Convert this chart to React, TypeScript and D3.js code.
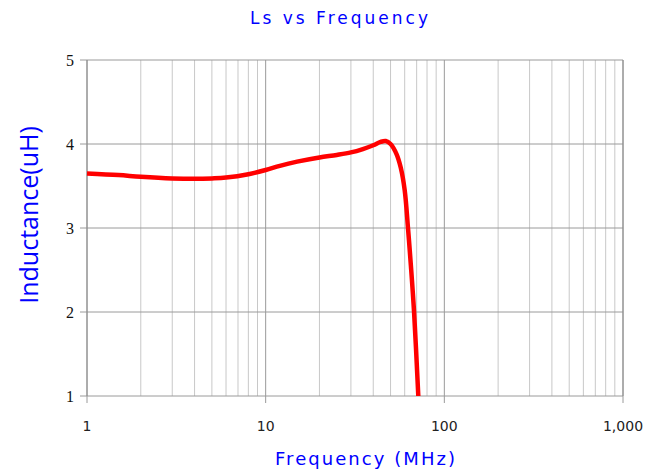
import * as d3 from 'd3';
import React from 'react';

// Ls vs frequency
const freqMHz = [1, 1.5, 2, 3, 4, 5, 6, 8, 10, 12, 15, 20, 25, 30, 35, 40, 44, 47, 50, 54, 57, 60, 62.6, 65, 67.7, 71.5];
const lsUH = [3.65, 3.63, 3.61, 3.59, 3.585, 3.59, 3.6, 3.64, 3.69, 3.74, 3.79, 3.84, 3.87, 3.9, 3.94, 3.985, 4.025, 4.035, 4.0, 3.88, 3.72, 3.45, 3.0, 2.55, 2.0, 1.0];

const xTicks = [1, 10, 100, 1000];
const yTicks = [1, 2, 3, 4, 5];

export default function App() {
  const width = 646;
  const height = 471;
  const margin = { top: 60, right: 23, bottom: 75, left: 87 };
  const innerW = width - margin.left - margin.right;
  const innerH = height - margin.top - margin.bottom;

  const x = d3.scaleLog().domain([1, 1000]).range([0, innerW]);
  const y = d3.scaleLinear().domain([1, 5]).range([innerH, 0]);

  const minor: number[] = [];
  for (let dec = 1; dec < 1000; dec *= 10) {
    for (let k = 2; k <= 9; k++) minor.push(dec * k);
  }

  const line = d3
    .line<number>()
    .x((_, i) => x(freqMHz[i]))
    .y((d) => y(d))
    .curve(d3.curveCatmullRom.alpha(0.5));

  const fmt = d3.format(',');

  return (
    <svg width={width} height={height} style={{ position: 'absolute', left: 0, top: 0, background: '#fff' }}>
      <text x={339} y={24} textAnchor="middle" fill="#0000ff" fontFamily="DejaVu Sans" fontSize={17} textLength={178} lengthAdjust="spacing">
        Ls vs Frequency
      </text>
      <g transform={`translate(${margin.left},${margin.top})`}>
        {minor.map((m) => (
          <line key={'m' + m} x1={x(m)} x2={x(m)} y1={0} y2={innerH} stroke="#c8c8c8" strokeWidth={1} />
        ))}
        {xTicks.map((t) => (
          <line key={'x' + t} x1={x(t)} x2={x(t)} y1={0} y2={innerH + 7} stroke="#9a9a9a" strokeWidth={1} />
        ))}
        {yTicks.map((t) => (
          <line key={'y' + t} x1={-7} x2={innerW} y1={y(t)} y2={y(t)} stroke="#9a9a9a" strokeWidth={1} />
        ))}
        <line x1={0} x2={0} y1={0} y2={innerH} stroke="#8c8c8c" />
        <line x1={innerW} x2={innerW} y1={0} y2={innerH} stroke="#8c8c8c" />
        <path d={line(lsUH) ?? ''} fill="none" stroke="#ff0000" strokeWidth={4.5} strokeLinejoin="round" />
        {yTicks.map((t) => (
          <text key={'yl' + t} x={-13} y={y(t)} dy="0.35em" textAnchor="end" fontFamily="Liberation Serif" fontSize={16} fill="#111">
            {t}
          </text>
        ))}
        {xTicks.map((t) => (
          <text key={'xl' + t} x={x(t)} y={innerH + 35} textAnchor="middle" fontFamily="DejaVu Sans" fontSize={14} fill="#222">
            {fmt(t)}
          </text>
        ))}
      </g>
      <text x={365} y={465} textAnchor="middle" fill="#0000ff" fontFamily="DejaVu Sans" fontSize={18} textLength={180} lengthAdjust="spacing">
        Frequency (MHz)
      </text>
      <text transform="translate(38,215) rotate(-90)" textAnchor="middle" fill="#0000ff" fontFamily="Open Sans" fontSize={25}>
        Inductance(uH)
      </text>
    </svg>
  );
}
